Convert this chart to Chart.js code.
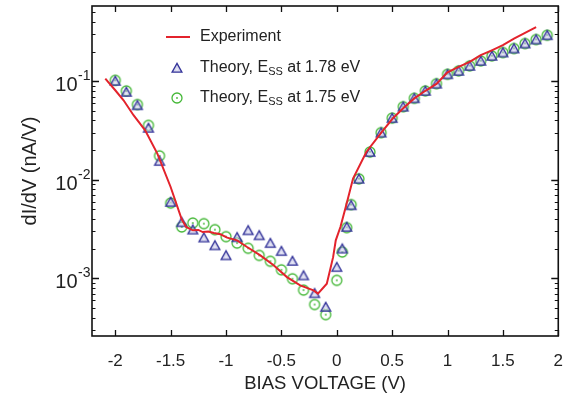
<!DOCTYPE html>
<html>
<head>
<meta charset="utf-8">
<script src="https://cdn.jsdelivr.net/npm/chart.js@4.4.1/dist/chart.umd.min.js"></script>
<style>
html,body{margin:0;padding:0;background:#fff;}
#wrap{width:570px;height:399px;position:relative;}
</style>
</head>
<body>
<div id="wrap"><canvas id="c" width="570" height="399"></canvas></div>
<script>
// ---- data ----
const expV = [-2.09,-2.0,-1.925,-1.835,-1.73,-1.62,-1.5,-1.4,-1.36,-1.3,-1.25,-1.21,-1.16,-1.11,-1.05,-0.99,-0.9,-0.81,-0.69,-0.57,-0.45,-0.33,-0.21,-0.17,-0.09,-0.033,-0.009,0.033,0.087,0.147,0.267,0.402,0.507,0.6,0.7,0.8,0.9,1.0,1.1,1.2,1.3,1.4,1.5,1.6,1.7,1.8];
const expDIDV = [0.1065,0.081,0.0641,0.0452,0.0318,0.01845,0.00845,0.00397,0.00332,0.00307,0.0031,0.00295,0.00298,0.00288,0.0028,0.00259,0.00243,0.00208,0.00171,0.00136,0.00103,0.000849,0.000755,0.0007,0.000883,0.00164,0.00243,0.00332,0.0056,0.01028,0.01914,0.0301,0.0421,0.0532,0.067,0.080,0.094,0.123,0.14,0.157,0.184,0.206,0.232,0.271,0.31,0.355];

const theoryV = [-2.0,-1.9,-1.8,-1.7,-1.6,-1.5,-1.4,-1.3,-1.2,-1.1,-1.0,-0.9,-0.8,-0.7,-0.6,-0.5,-0.4,-0.3,-0.2,-0.1,0.0,0.05,0.09,0.13,0.2,0.3,0.4,0.5,0.6,0.7,0.8,0.9,1.0,1.1,1.2,1.3,1.4,1.5,1.6,1.7,1.8,1.9];
const theory178 = [0.1007,0.0778,0.057,0.0336,0.0155,0.00596,0.00371,0.00312,0.00259,0.00216,0.00171,0.00261,0.00307,0.00273,0.00228,0.00189,0.0015,0.00107,0.000705,0.000512,0.0013,0.002,0.00332,0.00551,0.01023,0.01914,0.0301,0.0423,0.0551,0.0672,0.0798,0.0944,0.1177,0.1273,0.143,0.1607,0.1807,0.1955,0.2147,0.2414,0.265,0.293];
const theory175 = [0.1023,0.0798,0.058,0.0357,0.0175,0.0058,0.00332,0.00364,0.00359,0.00312,0.00265,0.00228,0.00202,0.00171,0.00149,0.00122,0.00099,0.00076,0.000542,0.000428,0.000955,0.00185,0.00327,0.0056,0.01023,0.01914,0.0301,0.0423,0.0551,0.0672,0.0798,0.0944,0.1177,0.1273,0.143,0.1607,0.1807,0.1955,0.2147,0.2414,0.265,0.293];

const xTickValues = [-2,-1.5,-1,-0.5,0,0.5,1,1.5,2];
const yDecades = [0.1,0.01,0.001];
const seriesNames = ['Experiment','Theory, E','Theory, E'];
const legendSub = 'SS';
const legendTail = ['', ' at 1.78 eV', ' at 1.75 eV'];

// ---- styling ----
const FONT = '"Liberation Sans", Arial, sans-serif';
const RED = '#e3232c';
const TRI = '#34349a';
const GRN = '#45b838';

function triMarker(){
  const c = document.createElement('canvas'); c.width = 14; c.height = 14;
  const g = c.getContext('2d');
  g.beginPath(); g.moveTo(7,2.4); g.lineTo(11.9,11.2); g.lineTo(2.1,11.2); g.closePath();
  g.fillStyle = 'rgba(175,175,220,0.5)'; g.fill();
  g.lineWidth = 1.3; g.strokeStyle = TRI; g.stroke();
  g.fillStyle = 'rgba(245,245,255,0.9)'; g.fillRect(6.4,7.6,1.2,1.8);
  return c;
}
function circMarker(){
  const c = document.createElement('canvas'); c.width = 14; c.height = 14;
  const g = c.getContext('2d');
  g.beginPath(); g.arc(7,7,5,0,Math.PI*2);
  g.lineWidth = 1.3; g.strokeStyle = GRN; g.stroke();
  g.beginPath(); g.arc(7,7,0.9,0,Math.PI*2); g.fillStyle = GRN; g.fill();
  return c;
}
const triImg = triMarker(), circImg = circMarker();

const decorPlugin = {
  id: 'decor',
  afterDatasetsDraw(chart){
    const {ctx, chartArea:a, scales:{x, y}} = chart;
    ctx.save();
    ctx.strokeStyle = '#111'; ctx.lineWidth = 1.3;
    xTickValues.forEach(v=>{
      const px = Math.round(x.getPixelForValue(v))+0.5;
      ctx.beginPath();
      ctx.moveTo(px,a.bottom); ctx.lineTo(px,a.bottom-6);
      ctx.moveTo(px,a.top); ctx.lineTo(px,a.top+6);
      ctx.stroke();
    });
    for (let e=-4; e<=0; e++){
      for (let m=1; m<=9; m++){
        const v = m*Math.pow(10,e);
        if (v < y.min || v > y.max) continue;
        const py = Math.round(y.getPixelForValue(v))+0.5;
        const len = (m===1)?7:3.5;
        ctx.lineWidth = (m===1)?1.3:1;
        ctx.beginPath();
        ctx.moveTo(a.left,py); ctx.lineTo(a.left+len,py);
        ctx.moveTo(a.right,py); ctx.lineTo(a.right-len,py);
        ctx.stroke();
      }
    }
    ctx.lineWidth = 1.6;
    ctx.strokeRect(a.left, a.top, a.right-a.left, a.bottom-a.top);
    ctx.restore();
  },
  afterDraw(chart){
    const {ctx, scales:{y}} = chart;
    ctx.save();
    ctx.fillStyle = '#222';
    yDecades.forEach(v=>{
      const py = y.getPixelForValue(v);
      const exp = String(Math.round(Math.log10(v)));
      ctx.font = '20px ' + FONT;
      const w1 = ctx.measureText('10').width;
      ctx.font = '14px ' + FONT;
      const w2 = ctx.measureText(exp).width;
      const x0 = 90 - w1 - w2;
      ctx.textBaseline = 'alphabetic'; ctx.textAlign = 'left';
      ctx.font = '20px ' + FONT;
      ctx.fillText('10', x0, py + 10);
      ctx.font = '14px ' + FONT;
      ctx.fillText(exp, x0 + w1 + 0.5, py - 1);
    });
    const rows = [37, 68, 98];
    ctx.textBaseline = 'middle'; ctx.textAlign = 'left';
    ctx.strokeStyle = RED; ctx.lineWidth = 2;
    ctx.beginPath(); ctx.moveTo(166, rows[0]); ctx.lineTo(190, rows[0]); ctx.stroke();
    ctx.drawImage(triImg, 177-7, rows[1]-7);
    ctx.drawImage(circImg, 177-7, rows[2]-7);
    for (let i=0;i<3;i++){
      ctx.font = '16px ' + FONT;
      let xx = 200;
      ctx.fillText(seriesNames[i], xx, rows[i]);
      if (i>0){
        xx += ctx.measureText(seriesNames[i]).width;
        ctx.font = '11px ' + FONT;
        ctx.fillText(legendSub, xx, rows[i]+4);
        xx += ctx.measureText(legendSub).width;
        ctx.font = '16px ' + FONT;
        ctx.fillText(legendTail[i], xx, rows[i]);
      }
    }
    ctx.restore();
  }
};

const pts = (xs, ys) => xs.map((v,i)=>({x:v, y:ys[i]}));

new Chart(document.getElementById('c'), {
  type: 'scatter',
  data: {
    datasets: [
      { label: 'Experiment', data: pts(expV, expDIDV), showLine: true, borderColor: RED, borderWidth: 2, pointRadius: 0, tension: 0, fill: false },
      { label: 'Theory, ESS at 1.78 eV', data: pts(theoryV, theory178), pointStyle: triImg, pointRadius: 5 },
      { label: 'Theory, ESS at 1.75 eV', data: pts(theoryV, theory175), pointStyle: circImg, pointRadius: 5 }
    ]
  },
  options: {
    responsive: false,
    animation: false,
    layout: { padding: { top: 6, right: 11, left: 0, bottom: 0 } },
    plugins: { legend: { display: false }, tooltip: { enabled: false } },
    scales: {
      x: {
        type: 'linear', min: -2.21, max: 2.0,
        afterBuildTicks: s => { s.ticks = xTickValues.map(v=>({value:v})); },
        afterFit: s => { s.height = 63; },
        ticks: { color: '#222', font: { family: FONT, size: 17 }, padding: 7, maxRotation: 0, autoSkip: false, callback: v => String(v) },
        grid: { display: false },
        border: { display: false },
        title: { display: true, text: 'BIAS VOLTAGE (V)', color: '#222', font: { family: FONT, size: 18.5 }, padding: { top: 0, bottom: 4 } }
      },
      y: {
        type: 'logarithmic', min: 2.6e-4, max: 0.58,
        afterFit: s => { s.width = 92; },
        ticks: { display: false },
        grid: { display: false },
        border: { display: false },
        title: { display: true, text: 'dI/dV (nA/V)', color: '#222', font: { family: FONT, size: 20 }, padding: { top: 18, bottom: 0 } }
      }
    }
  },
  plugins: [decorPlugin]
});
</script>
</body>
</html>
